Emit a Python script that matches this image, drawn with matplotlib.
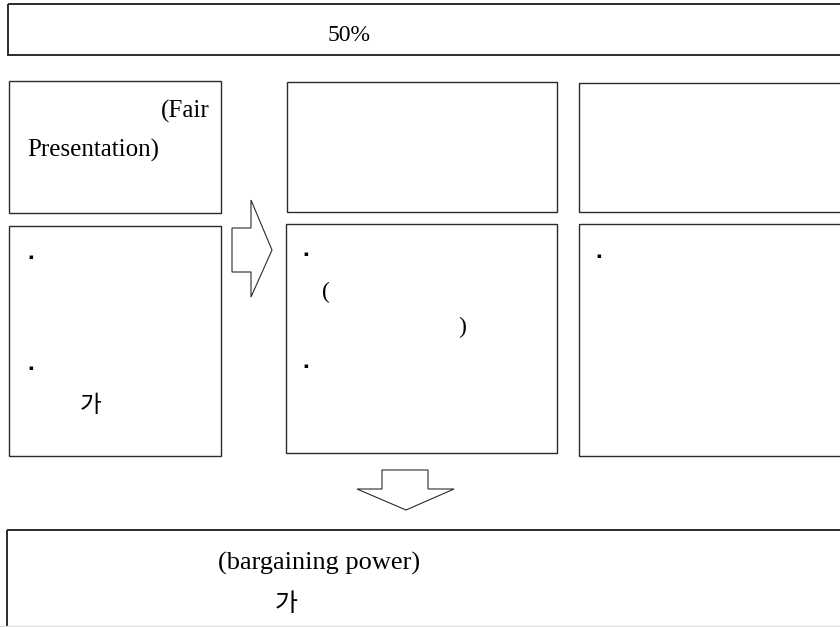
import matplotlib
matplotlib.use("Agg")
import matplotlib.pyplot as plt
from matplotlib.patches import Rectangle, Polygon

# ---- content (texts) ----
top_label = "50%"
fair_lines = ["(Fair", "Presentation)"]
bottom_label = "(bargaining power)"
hangul = "가"
bullet = "▪"
parens = ["(", ")"]

W, H = 840, 627
fig = plt.figure(figsize=(W / 100, H / 100), dpi=100)
ax = fig.add_axes([0, 0, 1, 1])
ax.set_xlim(0, W)
ax.set_ylim(H, 0)
ax.axis("off")

EDGE = "#2b2b2b"
LW = 1.0

def box(x0, y0, x1, y1, lw=LW, color=EDGE):
    ax.add_patch(Rectangle((x0, y0), x1 - x0, y1 - y0, fill=False,
                           edgecolor=color, linewidth=lw, clip_on=True))

# boxes (layout)
box(8, 4, 860, 55, lw=1.4)                 # top banner
box(9, 81, 221, 213)                       # fair presentation box
box(9, 226, 221, 456)                      # left lower
box(287, 82, 557, 212)                     # middle upper
box(286, 224, 557, 453)                    # middle lower
box(579, 83, 860, 212)                     # right upper
box(579, 224, 860, 456)                    # right lower
box(7, 530, 860, 660, lw=1.4)              # bottom banner
ax.plot([0, W], [626, 626], color="#dddddd", lw=1.0)

# right arrow
ax.add_patch(Polygon([(232, 228), (251, 228), (251, 200), (272, 250),
                      (251, 297), (251, 272), (232, 272)], closed=True,
                     fill=False, edgecolor=EDGE, linewidth=0.8))
# down arrow
ax.add_patch(Polygon([(382, 470), (428, 470), (428, 489), (454, 489),
                      (406, 510), (357, 489), (382, 489)], closed=True,
                     fill=False, edgecolor=EDGE, linewidth=0.8))

SERIF = ["Liberation Serif", "DejaVu Serif"]
KR = ["Noto Sans CJK KR", "DejaVu Sans"]

ax.text(349, 41, top_label, family=SERIF, fontsize=17, ha="center", va="baseline")
ax.text(161, 118, fair_lines[0], family=SERIF, fontsize=18, ha="left", va="baseline")
ax.text(27, 157, fair_lines[1], family=SERIF, fontsize=18, ha="left", va="baseline")
ax.text(218, 570, bottom_label, family=SERIF, fontsize=19, ha="left", va="baseline")

# hangul
ax.text(80, 412, hangul, family=KR, fontsize=17, ha="left", va="baseline")
ax.text(275, 611, hangul, family=KR, fontsize=18, ha="left", va="baseline")

# bullets
for bx, by in [(31, 257), (31, 368), (306, 254), (306, 366), (599, 256)]:
    ax.text(bx, by, bullet, family=["DejaVu Sans"], fontsize=5,
            ha="center", va="center")

# parentheses in middle box
ax.text(322, 298, parens[0], family=SERIF, fontsize=17, ha="left", va="baseline")
ax.text(458, 333, parens[1], family=SERIF, fontsize=17, ha="left", va="baseline")

fig.savefig("out.png", dpi=100)
